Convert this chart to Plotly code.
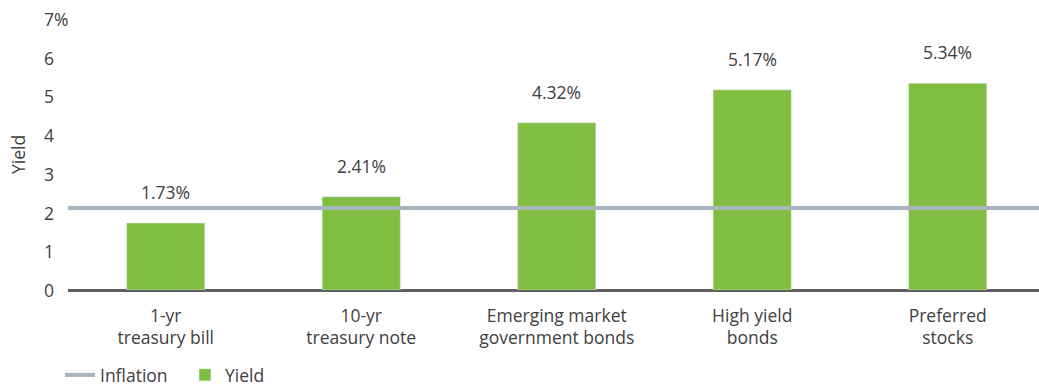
import plotly.graph_objects as go

categories = ["1-yr<br>treasury bill", "10-yr<br>treasury note", "Emerging market<br>government bonds",
              "High yield<br>bonds", "Preferred<br>stocks"]
yield_vals = [1.73, 2.41, 4.32, 5.17, 5.34]
inflation = 2.12
y_ticks = [0, 1, 2, 3, 4, 5, 6, 7]
y_tick_labels = ["0", "1", "2", "3", "4", "5", "6", "7%"]

FONT = "Open Sans"
FS = 17.5
TXT = "#404040"
GREEN = "#80bd41"
GRAY = "#a8b5bc"

xpos = list(range(len(categories)))
x_lo, x_hi = -0.5, 4.467

fig = go.Figure()
fig.add_trace(go.Scatter(x=[x_lo, x_hi], y=[inflation, inflation], mode="lines",
                         line=dict(color=GRAY, width=4), name="Inflation", cliponaxis=False))
fig.add_trace(go.Bar(x=xpos, y=yield_vals, marker_color=GREEN, width=0.4, name="Yield"))

for x, v in zip(xpos, yield_vals):
    fig.add_annotation(x=x, y=v, text=f"{v:.2f}%", showarrow=False, yshift=31,
                       font=dict(family=FONT, size=FS, color=TXT))

for t, lab in zip(y_ticks, y_tick_labels):
    fig.add_annotation(xref="paper", yref="y", x=-0.027, y=t, text=lab, showarrow=False,
                       xanchor="left", font=dict(family=FONT, size=FS, color=TXT))

fig.add_annotation(xref="paper", yref="paper", x=-0.052, y=0.5, text="Yield", textangle=-90,
                   showarrow=False, font=dict(family=FONT, size=FS, color=TXT), xanchor="center")

fig.update_layout(
    width=1039, height=387,
    margin=dict(l=68, r=0, t=19, b=97, autoexpand=False),
    plot_bgcolor="white", paper_bgcolor="white",
    font=dict(family=FONT, size=FS, color=TXT),
    showlegend=True,
    legend=dict(orientation="h", x=60/1039, y=1-375/387, xref="container", yref="container",
                xanchor="left", yanchor="middle",
                font=dict(family=FONT, size=FS, color=TXT), traceorder="normal",
                entrywidthmode="pixels", entrywidth=80),
    xaxis=dict(range=[x_lo, x_hi], tickvals=xpos, ticktext=categories, showgrid=False,
               zeroline=False, showline=False, ticks="", automargin=False, ticklabelstandoff=13,
               tickfont=dict(family=FONT, size=FS, color=TXT)),
    yaxis=dict(range=[0, 7], tickvals=y_ticks, showticklabels=False, showgrid=False, automargin=False,
               zeroline=True, zerolinecolor="#606060", zerolinewidth=2.5),
)
fig.write_html("out.html")
